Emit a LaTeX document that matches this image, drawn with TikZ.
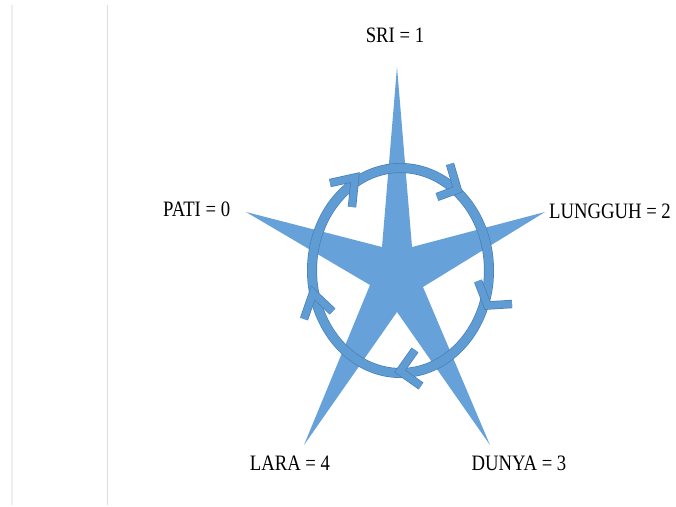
\documentclass[tikz,border=0pt]{standalone}
\usepackage{fontspec}
\setmainfont{Liberation Serif}[FakeStretch=0.85]
\definecolor{starblue}{HTML}{66A2D9}
\definecolor{ringblue}{HTML}{5F9CD4}
\definecolor{ringedge}{HTML}{4A7FB5}
\definecolor{guideA}{HTML}{EEEEEE}
\definecolor{guideB}{HTML}{DCDCDC}
\begin{document}
\begin{tikzpicture}[x=1pt,y=-1pt,
  lbl/.style={font=\fontsize{22}{24}\selectfont, anchor=base, inner sep=0pt},
  ringout/.style={draw=ringedge, line width=10pt},
  ringin/.style={draw=ringblue, line width=8.6pt},
  chevout/.style={draw=ringedge, line width=8.4pt, line join=miter, miter limit=10},
  chevin/.style={draw=ringblue, line width=7pt, line join=miter, miter limit=10}]
\useasboundingbox (0,0) rectangle (676,506);
% guide lines
\draw[guideA, line width=1.8pt] (12,5) -- (12,505);
\draw[guideB, line width=1.5pt] (107.7,5) -- (107.7,505);
% star
\fill[starblue] (397,67) -- (412,247) -- (545,212) -- (423,287) -- (490,445)
  -- (397,312) -- (304,445) -- (370,285) -- (246,212) -- (382,247) -- cycle;
% ring
\coordinate (c) at (400.5,270.5);
\draw[ringout] (c) ellipse [x radius=88.5, y radius=102.5];
\draw[ringin] (c) ellipse [x radius=88.5, y radius=102.5];
% chevrons
\coordinate (a1) at (330,183); \coordinate (at) at (355,177.5); \coordinate (a2) at (352,207);
\coordinate (b1) at (450,164); \coordinate (bt) at (457.5,189.5); \coordinate (b2) at (437,197);
\coordinate (c1) at (478,281); \coordinate (ct) at (487.5,305.5); \coordinate (c2) at (512,304);
\coordinate (d1) at (415,350); \coordinate (dt) at (400,371.3); \coordinate (d2) at (421,386);
\coordinate (e1) at (304,319); \coordinate (et) at (313,293); \coordinate (e2) at (332.5,311.5);
\foreach \p in {a,b,c,d,e}{
  \draw[chevout] (\p1) -- (\p t) -- (\p2);
}
\foreach \p in {a,b,c,d,e}{
  \draw[chevin] (\p1) -- (\p t) -- (\p2);
}
% labels
\node[lbl] (sri) at (395,42.7) {SRI = 1};
\node[lbl] (pati) at (196.7,216.7) {PATI = 0};
\node[lbl] (lungguh) at (610,218) {LUNGGUH = 2};
\node[lbl] (lara) at (290,470) {LARA = 4};
\node[lbl] (dunya) at (519,470) {DUNYA = 3};
\end{tikzpicture}
\end{document}
